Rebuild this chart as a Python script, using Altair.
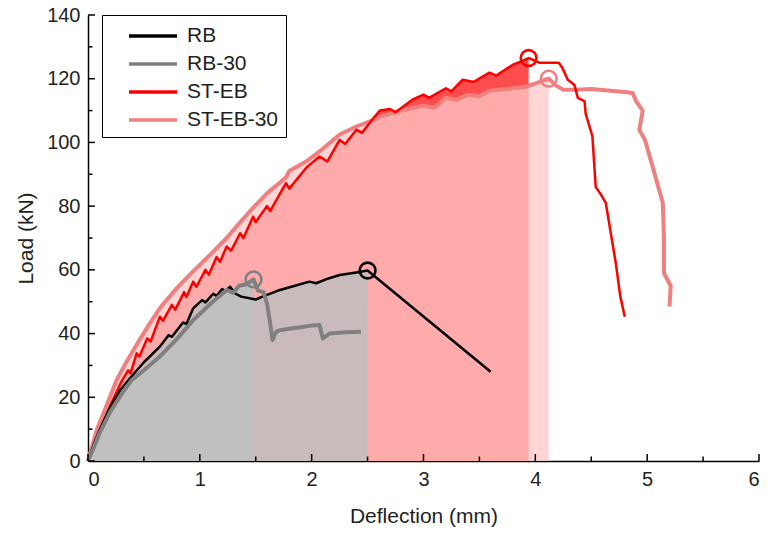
import altair as alt
import pandas as pd

# ---------------- data ----------------
series = ["RB", "RB-30", "ST-EB", "ST-EB-30"]
line_colors = ["#000000", "#808080", "#ff0000", "#f08080"]
line_widths = [2.5, 4.0, 2.5, 4.0]
area_fills = ["#bebebe", "#c0c0c0", "#ff4c4c", "#ffc8c8"]
area_opacity = [0.83, 1.0, 1.0, 0.77]

rb_x = [0, 0.05, 0.1, 0.2, 0.286, 0.4, 0.5, 0.64, 0.72, 0.75, 0.85, 0.88, 0.94, 1.02, 1.05, 1.12, 1.15,
        1.2, 1.23, 1.27, 1.32, 1.37, 1.5, 1.56, 1.7, 1.85, 1.98, 2.04, 2.15, 2.25, 2.4, 2.5, 3.6]
rb_y = [0, 5, 9.5, 17, 22.2, 27, 31, 35.8, 39.5, 39, 43.5, 43, 47.9, 50.5, 49.8, 52.5, 51.8,
        54, 53.3, 54.7, 52.5, 51.6, 50.7, 51.6, 53.5, 55, 56.3, 55.8, 57.3, 58.4, 59.2, 59.8, 28]

rb30_x = [0, 0.05, 0.1, 0.2, 0.3, 0.39, 0.5, 0.64, 0.8, 0.94, 1.1, 1.24, 1.3, 1.35, 1.42, 1.48, 1.52,
          1.57, 1.6, 1.625, 1.65, 1.68, 1.71, 1.8, 1.9, 2.0, 2.07, 2.1, 2.16, 2.3, 2.44]
rb30_y = [0, 4, 8.5, 15.5, 21, 25.4, 28.5, 32.7, 38.5, 44.2, 49.5, 53.7, 52.8, 55, 55.5, 57, 53.5,
          53, 49.5, 44.2, 38, 40.5, 41, 41.5, 42, 42.5, 42.7, 38.5, 40, 40.4, 40.6]

steb_x = [0, 0.05, 0.1, 0.2, 0.3, 0.36, 0.38, 0.435, 0.46, 0.53, 0.56, 0.643, 0.67, 0.75, 0.78, 0.86,
          0.88, 0.94, 0.97, 1.05, 1.08, 1.15, 1.18, 1.24, 1.28, 1.36, 1.39, 1.476, 1.5, 1.6, 1.63,
          1.77, 1.8, 1.95, 2.0, 2.07, 2.14, 2.25, 2.3, 2.4, 2.45, 2.55, 2.61, 2.7, 2.75, 2.9, 3.0,
          3.05, 3.2, 3.25, 3.35, 3.45, 3.59, 3.65, 3.8, 3.88, 3.94, 4.04, 4.21, 4.24, 4.29, 4.35,
          4.38, 4.44, 4.45, 4.51, 4.54, 4.58, 4.63, 4.67, 4.72, 4.76, 4.8]
steb_y = [0, 4.5, 9, 17.5, 25, 28.5, 27.5, 33.8, 32.8, 38.5, 37.5, 45.3, 44, 49, 47.5, 53,
          51.5, 56.3, 54.7, 60, 58.5, 64, 62.5, 67.3, 66, 71.5, 70, 76.7, 75, 80, 78.5,
          87.2, 85.5, 92, 93.5, 95.6, 94, 100.8, 99.5, 104, 103, 107.5, 110, 110.5, 109.5, 113.4, 115,
          114, 117, 116, 119.7, 119, 121.9, 121, 124.4, 125.5, 126.5, 125, 125, 123.5, 119.7, 118,
          114, 113, 109, 102, 86, 84, 81, 72.5, 62, 51.6, 45.3]

steb30_x = [0, 0.04, 0.078, 0.15, 0.256, 0.35, 0.435, 0.54, 0.643, 0.8, 0.94, 1.1, 1.24, 1.35, 1.476,
            1.6, 1.77, 1.8, 1.95, 2.1, 2.25, 2.4, 2.55, 2.61, 2.8, 3.0, 3.1, 3.2, 3.3, 3.4, 3.5, 3.59,
            3.75, 3.91, 4.0, 4.07, 4.12, 4.18, 4.25, 4.35, 4.5, 4.65, 4.8, 4.87, 4.9, 4.96, 4.93,
            4.98, 5.06, 5.14, 5.15, 5.15, 5.21, 5.2]
steb30_y = [0, 5, 9.7, 16, 25.4, 31.5, 36.5, 42.5, 48, 54.5, 59.5, 65, 70, 74.5, 79.5,
            84, 89, 91, 94, 98, 102.5, 105, 107, 108, 110, 111.5, 110.8, 114, 113.3, 115, 114.5, 116.2,
            116.8, 117.4, 118.5, 119.5, 120, 118, 116.5, 116.5, 116.8, 116.3, 115.8, 115.5, 113, 110, 104,
            100.8, 91, 81, 70, 59, 55, 48.5]

x_major = [0, 1, 2, 3, 4, 5, 6]
x_minor = [0.5, 1.5, 2.5, 3.5, 4.5, 5.5]
y_major = [0, 20, 40, 60, 80, 100, 120, 140]
y_minor = [10, 30, 50, 70, 90, 110, 130]

# ---------------- tables ----------------
xs_all = [rb_x, rb30_x, steb_x, steb30_x]
ys_all = [rb_y, rb30_y, steb_y, steb30_y]
curves = {}
for s, xv, yv in zip(series, xs_all, ys_all):
    curves[s] = pd.DataFrame({"series": s, "x": xv, "y": yv, "base": 0.0, "i": range(len(xv))})

FONT = "Liberation Sans"
TXT = "#231f20"
W, H = 671, 446

xscale = alt.Scale(domain=[0, 6], nice=False, zero=False)
yscale = alt.Scale(domain=[0, 140], nice=False, zero=False)
xaxis = alt.Axis(title="Deflection (mm)", values=x_major, format="d")
yaxis = alt.Axis(title="Load (kN)", values=y_major, format="d")

legend = alt.Legend(title=None, orient="none", legendX=14, legendY=0,
                    strokeColor="black", fillColor="white", padding=7,
                    symbolType="M-2,0H2", symbolSize=576, symbolStrokeWidth=3.5,
                    labelFontSize=21, labelFont=FONT, labelColor=TXT,
                    rowPadding=4, labelOffset=20, symbolOffset=30)

layers = []

# areas (under each curve up to its peak)
for s in ["ST-EB", "ST-EB-30", "RB", "RB-30"]:
    k = series.index(s)
    d = curves[s]
    pk = int(d["y"].idxmax())
    da = d.iloc[: pk + 1]
    layers.append(
        alt.Chart(da).mark_area(color=area_fills[k], opacity=area_opacity[k])
        .encode(x=alt.X("x:Q", scale=xscale, axis=xaxis),
                y=alt.Y("y:Q", scale=yscale, axis=yaxis),
                y2="base:Q")
    )

# lines
for s in ["ST-EB-30", "ST-EB", "RB", "RB-30"]:
    k = series.index(s)
    layers.append(
        alt.Chart(curves[s]).mark_line(strokeWidth=line_widths[k], strokeJoin="round")
        .encode(x=alt.X("x:Q", scale=xscale, axis=xaxis),
                y=alt.Y("y:Q", scale=yscale, axis=yaxis),
                color=alt.Color("series:N", scale=alt.Scale(domain=series, range=line_colors),
                                legend=legend),
                order="i:Q")
    )

# peak circles
for s in series:
    k = series.index(s)
    d = curves[s]
    pk = int(d["y"].idxmax())
    layers.append(
        alt.Chart(d.iloc[[pk]]).mark_point(filled=False, size=250, strokeWidth=2.6,
                                            color=line_colors[k], opacity=1)
        .encode(x=alt.X("x:Q", scale=xscale, axis=xaxis),
                y=alt.Y("y:Q", scale=yscale, axis=yaxis))
    )

# inward ticks
for vals, ln in [(x_major, 7), (x_minor, 4.5)]:
    layers.append(
        alt.Chart(pd.DataFrame({"v": vals})).mark_rule(color="black", strokeWidth=1.5)
        .encode(x=alt.X("v:Q", scale=xscale, axis=xaxis),
                y=alt.value(H), y2=alt.value(H - ln))
    )
for vals, ln in [(y_major, 7), (y_minor, 4.5)]:
    layers.append(
        alt.Chart(pd.DataFrame({"v": vals})).mark_rule(color="black", strokeWidth=1.5)
        .encode(y=alt.Y("v:Q", scale=yscale, axis=yaxis),
                x=alt.value(0), x2=alt.value(ln))
    )

chart = alt.layer(*layers).properties(
    width=W, height=H,
    autosize=alt.AutoSizeParams(type="none"),
    padding={"left": 88, "top": 15, "right": 15, "bottom": 77},
).configure_view(stroke=None).configure_axis(
    grid=False, ticks=False, domainColor="black", domainWidth=1.5,
    labelFont=FONT, labelFontSize=20, labelColor=TXT, labelPadding=8,
    titleFont=FONT, titleFontSize=21, titleColor=TXT, titleFontWeight="normal",
).configure_axisX(titlePadding=16).configure_axisY(titlePadding=10)

chart.save("out.html", embed_options={"renderer": "svg", "actions": False})
